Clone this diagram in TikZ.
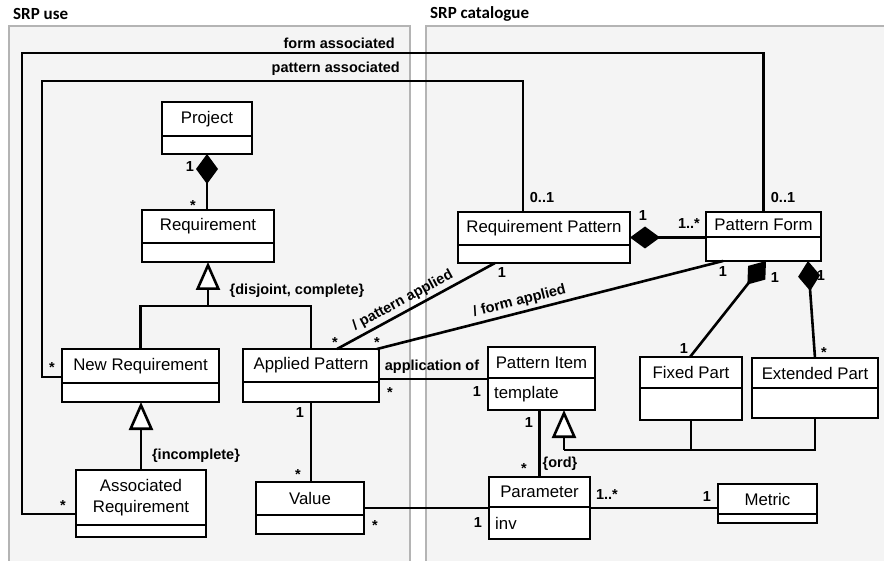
\documentclass[tikz,border=0pt]{standalone}
\usepackage{fontspec}
\setmainfont{Liberation Sans}
\newfontfamily\titlefont{Carlito}
\usetikzlibrary{arrows.meta,calc}

\definecolor{panelfill}{HTML}{F4F4F4}
\definecolor{panelrule}{HTML}{B4B4B4}

\tikzset{
  panel/.style={fill=panelfill, draw=panelrule, line width=2pt},
  paneltitle/.style={font=\titlefont\bfseries\fontsize{17}{20}\selectfont, anchor=west, inner sep=0pt},
  clsbox/.style={draw=black, fill=white, line width=2.6pt, inner sep=0pt, outer sep=0pt},
  clsrule/.style={line width=2.2pt},
  clsname/.style={font=\fontsize{16.8}{21}\selectfont, align=center, inner sep=0pt},
  clsattr/.style={font=\fontsize{16.8}{21}\selectfont, anchor=west, inner sep=0pt},
  assoc/.style={line width=2.6pt, line cap=butt},
  lbl/.style={font=\bfseries\fontsize{14.5}{17}\selectfont, inner sep=0pt},
  compo/.style={{Diamond[length=30pt,width=22pt]}-},
  gener/.style={-{Triangle[open,fill=white,length=28pt,width=24pt]}},
}

% \umlclass{name}{x1}{y1}{x2}{y2}{y of divider}{title}{attribute}
\newcommand\umlclass[8]{%
  \node[clsbox, anchor=north west, minimum width={#4-#2}, minimum height={#5-#3}] (#1) at (#2,#3) {};
  \draw[clsrule] (#2,#6) -- (#4,#6);
  \node[clsname] (#1-title) at ({(#2+#4)/2},{(#3+#6)/2}) {#7};
  \node[clsattr] (#1-attr) at ({#2+6},{(#6+#5)/2}) {#8};
}

\begin{document}
\begin{tikzpicture}[x=1pt,y=-1pt]
\useasboundingbox (0,0) rectangle (884,561);

% the two packages
\begin{scope}
  \clip (0,0) rectangle (884,561);
  \path[panel] (8.5,26) rectangle (410,580);
  \path[panel] (426,26) rectangle (900,580);
\end{scope}
\node[paneltitle] (tuse) at (13,14) {SRP use};
\node[paneltitle] (tcat) at (430,14) {SRP catalogue};

% classes
\umlclass{proj}{162}{102}{252}{154}{136}{Project}{}
\umlclass{req}{142}{210}{274}{262}{243}{Requirement}{}
\umlclass{nr}{62}{349}{219}{402}{383}{New Requirement}{}
\umlclass{ap}{243}{349}{379}{402}{382}{Applied Pattern}{}
\umlclass{ar}{76}{470}{206}{537}{525}{Associated\\Requirement}{}
\umlclass{val}{256}{482}{364}{534}{515}{Value}{}
\umlclass{rp}{458}{212}{630}{263}{245}{Requirement Pattern}{}
\umlclass{pf}{706}{212}{821}{261}{237}{Pattern Form}{}
\umlclass{pi}{488}{347}{595}{410}{378}{Pattern Item}{template}
\umlclass{fp}{640}{357}{742}{420}{388}{Fixed Part}{}
\umlclass{ext}{752}{358}{878}{418}{388}{Extended Part}{}
\umlclass{par}{489}{477}{590}{539}{507}{Parameter}{inv}
\umlclass{met}{718}{484}{817}{523}{514}{Metric}{}

% generalisations
\coordinate (g1) at (208,306);
\draw[assoc] (nr.north) |- (g1) -| (ap.north);
\draw[assoc,gener] (g1) -- (req.south);
\draw[assoc,gener] (ar.north) -- (ar.north |- nr.south);
\coordinate (g2) at (564,450);
\draw[assoc] (g2) -| (ext.south);
\draw[assoc] (fp.south) -- (fp.south |- g2);
\draw[assoc,gener] (g2) -- (g2 |- pi.south);

% compositions
\draw[assoc,compo] (proj.south) -- (proj.south |- req.north);
\draw[assoc,compo] (rp.east) -- (rp.east -| pf.west);
\draw[assoc,compo] ($(pf.south west)+(60,0)$) -- ($(fp.north west)+(50,0)$);
\draw[assoc,compo] ($(pf.south west)+(102,0)$) -- ($(ext.north west)+(63,0)$);

% associations
\draw[assoc] (ap.south) -- (ap.south |- val.north);
\draw[assoc] (val.east) -- (val.east -| par.west);
\draw[assoc] (ap.east |- 0,379) -- (pi.west |- 0,379);
\draw[assoc] (par.north) -- (par.north |- pi.south);
\draw[assoc] (par.east |- 0,508) -- (met.west |- 0,508);
\draw[assoc] ($(ap.north west)+(94,0)$) -- node[lbl, sloped, above=3pt, pos=0.45] (lpa) {/ pattern applied} ($(rp.south west)+(37,0)$);
\draw[assoc] ($(ap.north east)+(-2,0)$) -- node[lbl, sloped, above=3pt, pos=0.42] (lfa) {/ form applied} ($(pf.south west)+(17,0)$);

\coordinate (fa) at (22,53);
\draw[assoc] (ar.west |- 0,514) -| (fa) -| (pf.north);
\node[lbl, anchor=east] (lformassoc) at (395,43) {form associated};

\coordinate (pa) at (42,81);
\draw[assoc] (nr.west |- 0,377) -| (pa) -| ($(rp.north west)+(65,0)$);
\node[lbl, anchor=east] (lpatassoc) at (400,69) {pattern associated};

% association names and constraints
\node[lbl] (lappof) at (432,367) {application of};
\node[lbl] (ldisj) at (297,291) {\{disjoint, complete\}};
\node[lbl] (linc) at (196,456) {\{incomplete\}};
\node[lbl] (lord) at (560,464) {\{ord\}};

% multiplicities
\node[lbl] (m1) at (190,167) {1};
\node[lbl] (m2) at (193,206) {*};
\node[lbl] (m3) at (52,368) {*};
\node[lbl] (m4) at (63,506) {*};
\node[lbl] (m5) at (335,343) {*};
\node[lbl] (m6) at (377,343) {*};
\node[lbl] (m7) at (502,273) {1};
\node[lbl] (m8) at (542,198) {0..1};
\node[lbl] (m9) at (783,198) {0..1};
\node[lbl] (m10) at (643,216) {1};
\node[lbl] (m11) at (689,224) {1..*};
\node[lbl] (m12) at (723,272) {1};
\node[lbl] (m13) at (775,278) {1};
\node[lbl] (m14) at (821,276) {1};
\node[lbl] (m15) at (684,349) {1};
\node[lbl] (m16) at (824,353) {*};
\node[lbl] (m17) at (390,393) {*};
\node[lbl] (m18) at (477,392) {1};
\node[lbl] (m19) at (529,423) {1};
\node[lbl] (m20) at (524,469) {*};
\node[lbl] (m21) at (607,495) {1..*};
\node[lbl] (m22) at (707,497) {1};
\node[lbl] (m23) at (375,526) {*};
\node[lbl] (m24) at (478,523) {1};
\node[lbl] (m25) at (300,413) {1};
\node[lbl] (m26) at (298,475) {*};
\end{tikzpicture}
\end{document}
